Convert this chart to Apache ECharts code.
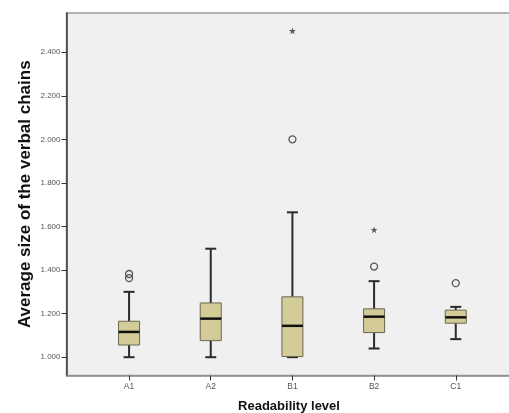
<!DOCTYPE html>
<html>
<head>
<meta charset="utf-8">
<script src="https://cdn.jsdelivr.net/npm/echarts@6/dist/echarts.min.js"></script>
<style>
  html, body { margin: 0; padding: 0; background: #fff; }
  #chart { width: 509px; height: 413px; }
</style>
</head>
<body>
<div id="chart"></div>
<script>
const categories = ["A1", "A2", "B1", "B2", "C1"];
// [low whisker, Q1, median, Q3, high whisker]
const boxStats = [
  [1.000, 1.056, 1.116, 1.165, 1.300],
  [1.000, 1.076, 1.177, 1.249, 1.498],
  [1.000, 1.003, 1.144, 1.277, 1.665],
  [1.040, 1.113, 1.186, 1.222, 1.349],
  [1.083, 1.156, 1.183, 1.216, 1.231],
];
// outliers: [category index, value]
const circleOutliers = [[0, 1.382], [0, 1.363], [2, 2.000], [3, 1.416], [4, 1.340]];
const starOutliers = [[2, 2.498], [3, 1.585]];
const yTicks = [1.0, 1.2, 1.4, 1.6, 1.8, 2.0, 2.2, 2.4];

const chart = echarts.init(document.getElementById("chart"));

const xPos = categories.map((c, i) => i + 1);
const boxRows = boxStats.map((s, i) => [xPos[i]].concat(s));

function renderBox(params, api) {
  const x = api.value(0);
  const lo = api.coord([x, api.value(1)]);
  const q1 = api.coord([x, api.value(2)]);
  const med = api.coord([x, api.value(3)]);
  const q3 = api.coord([x, api.value(4)]);
  const hi = api.coord([x, api.value(5)]);
  const cx = lo[0];
  const hw = 10.5, cw = 5.5;
  const line = { stroke: "#2b2b2b", lineWidth: 2 };
  return {
    type: "group",
    children: [
      { type: "line", shape: { x1: cx, y1: hi[1], x2: cx, y2: q3[1] }, style: line },
      { type: "line", shape: { x1: cx, y1: q1[1], x2: cx, y2: lo[1] }, style: line },
      { type: "line", shape: { x1: cx - cw, y1: hi[1], x2: cx + cw, y2: hi[1] }, style: line },
      { type: "line", shape: { x1: cx - cw, y1: lo[1], x2: cx + cw, y2: lo[1] }, style: line },
      { type: "rect", shape: { x: cx - hw, y: q3[1], width: hw * 2, height: q1[1] - q3[1] },
        style: { fill: "#d4cc98", stroke: "#6a6650", lineWidth: 1 } },
      { type: "line", shape: { x1: cx - hw, y1: med[1], x2: cx + hw, y2: med[1] },
        style: { stroke: "#111", lineWidth: 2.5 } },
    ],
  };
}

const starPath = "path://M0,-10L2.2,-3.1L9.5,-3.1L3.6,1.2L5.9,8.1L0,3.8L-5.9,8.1L-3.6,1.2L-9.5,-3.1L-2.2,-3.1Z";

chart.setOption({
  animation: false,
  grid: {
    left: 66.5, top: 13, width: 460, bottom: 37.5,
    outerBoundsMode: "none", containLabel: false,
    show: true, backgroundColor: "#f0f0f0", borderColor: "#9a9a9a", borderWidth: 1.5,
  },
  xAxis: {
    type: "value", min: 0.234, max: 5.866,
    splitLine: { show: false },
    axisLine: { show: true, lineStyle: { color: "#8f8f8f", width: 1.5 } },
    axisTick: { show: true, length: 5, customValues: xPos, lineStyle: { color: "#333" } },
    axisLabel: {
      customValues: xPos, margin: 7, color: "#555", fontSize: 8.5, fontFamily: "Liberation Sans",
      formatter: v => categories[Math.round(v) - 1] || "",
    },
    name: "Readability level", nameLocation: "middle", nameGap: 24, nameMoveOverlap: false,
    nameTextStyle: { fontFamily: "Liberation Sans", fontWeight: "bold", fontSize: 13, color: "#111",
      padding: [0, 15, 0, 0] },
  },
  yAxis: {
    type: "value", min: 0.916, max: 2.58,
    splitLine: { show: false },
    axisLine: { show: true, lineStyle: { color: "#3a3a3a", width: 1.5 } },
    axisTick: { show: true, length: 5, customValues: yTicks, lineStyle: { color: "#333" } },
    axisLabel: {
      customValues: yTicks, margin: 6, color: "#555", fontSize: 8, fontFamily: "Liberation Sans",
      formatter: v => v.toFixed(3),
    },
    name: "Average size of the verbal chains", nameLocation: "middle", nameGap: 33, nameMoveOverlap: false,
    nameTextStyle: { fontFamily: "Liberation Sans", fontWeight: "bold", fontSize: 17, color: "#111" },
  },
  series: [
    {
      type: "custom", renderItem: renderBox, data: boxRows,
      encode: { x: 0, y: [1, 2, 3, 4, 5] }, z: 3,
    },
    {
      type: "scatter", data: circleOutliers.map(d => [xPos[d[0]], d[1]]),
      symbol: "circle", symbolSize: 7, z: 4,
      itemStyle: { color: "rgba(0,0,0,0)", borderColor: "#333", borderWidth: 1.3 },
    },
    {
      type: "scatter", data: starOutliers.map(d => [xPos[d[0]], d[1]]),
      symbol: starPath, symbolSize: 7, z: 4,
      itemStyle: { color: "#333" },
    },
  ],
});
</script>
</body>
</html>
